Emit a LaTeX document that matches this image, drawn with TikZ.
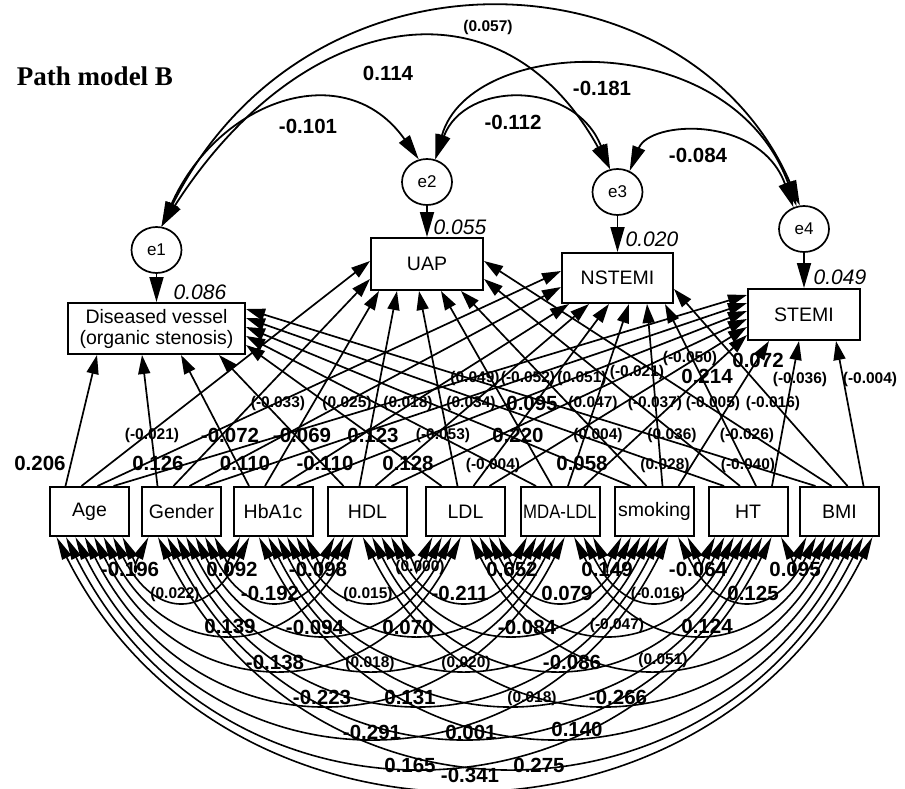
\documentclass[tikz,border=0pt]{standalone}
\usepackage{fontspec}
\setmainfont{Liberation Sans}
\newfontfamily\serifB{Liberation Serif}
\usetikzlibrary{arrows.meta,shapes.geometric,calc}
\begin{document}
\begin{tikzpicture}[x=1pt,y=-1pt,
  box/.style={draw,line width=2pt,inner sep=0pt,font=\fontsize{19.5}{20}\selectfont},
  endo/.style={box,minimum height=51pt},
  exo/.style={box,minimum width=79pt,minimum height=49pt},
  err/.style={draw,ellipse,line width=1.7pt,minimum width=50pt,minimum height=46pt,inner sep=0pt,font=\fontsize{17}{18}\selectfont},
  reg/.style={line width=1.7pt,-{Triangle[length=19pt,width=12pt]}},
  cov/.style={line width=1.6pt,{Triangle[length=23pt,width=10pt]}-{Triangle[length=23pt,width=10pt]}},
  ecov/.style={line width=1.8pt,{Triangle[length=25pt,width=13pt]}-{Triangle[length=25pt,width=13pt]}},
  earr/.style={line width=1.8pt,-{Triangle[length=25pt,width=14pt]}},
  big/.style={font=\fontsize{20.5}{22}\selectfont\bfseries,inner sep=0pt},
  sml/.style={font=\fontsize{15.5}{17}\selectfont\bfseries,inner sep=0pt},
  rsq/.style={font=\fontsize{21}{22}\selectfont\itshape,inner sep=0pt}]
\useasboundingbox (0,0) rectangle (905,789);
\fill[white] (0,0) rectangle (905,789);

% title
\node[inner sep=0pt,font=\fontsize{27}{30}\selectfont\serifB\bfseries] (title) at (95,76) {Path model B};

% endogenous boxes
\node[endo,minimum width=177pt,align=center,font=\fontsize{19.5}{21}\selectfont] (dv) at (156.5,328.5) {Diseased vessel\\(organic stenosis)};
\node[endo,minimum width=112pt,minimum height=52pt] (uap) at (427,264) {UAP};
\node[endo,minimum width=111pt,minimum height=50pt] (ns) at (617.5,278) {NSTEMI};
\node[endo,minimum width=112pt] (st) at (804,314.5) {STEMI};

% error terms
\node[err] (e1) at (156.5,250) {e1};
\node[err] (e2) at (427,182) {e2};
\node[err] (e3) at (617.5,192) {e3};
\node[err] (e4) at (804,229) {e4};

% exogenous boxes
\node[exo] (x0) at (89.5,511.5) {Age};
\node[exo] (x1) at (181.5,511.5) {Gender};
\node[exo] (x2) at (273,511.5) {HbA1c};
\node[exo] (x3) at (367.5,511.5) {HDL};
\node[exo] (x4) at (465.5,511.5) {LDL};
\node[exo] (x5) at (560,511.5) {\scalebox{0.86}[1]{MDA-LDL}};
\node[exo] (x6) at (654.5,511.5) {smoking};
\node[exo] (x7) at (748,511.5) {HT};
\node[exo] (x8) at (839.5,511.5) {BMI};

% error -> endogenous
\draw[earr] (e1) -- (dv);
\draw[earr] (e2) -- (uap);
\draw[earr] (e3) -- (ns);
\draw[earr] (e4) -- (st);

% error covariances
\draw[ecov] (e1.78) .. controls (218,100) and (345,55) .. (e2.110);
\draw[ecov] (e1.78) .. controls (300,10) and (500,-30) .. (e3.108);
\draw[ecov] (e1.78) .. controls (310,-70) and (690,-48) .. (e4.100);
\draw[ecov] (e2.70) .. controls (465,80) and (575,80) .. (e3.108);
\draw[ecov] (e2.70) .. controls (470,35) and (730,25) .. (e4.108);
\draw[ecov] (e3.60) .. controls (650,120) and (760,115) .. (e4.116);

% regression paths to Diseased vessel
\draw[reg] ([xshift=-24pt]x0.north) -- ([xshift=30pt]dv.south west);
\draw[reg] ([xshift=-24pt]x1.north) -- ([xshift=75pt]dv.south west);
\draw[reg] ([xshift=-24pt]x2.north) -- ([xshift=114pt]dv.south west);
\draw[reg] ([xshift=-24pt]x3.north) -- ([xshift=152pt]dv.south west);
\draw[reg] ([xshift=-24pt]x4.north) -- ([yshift=-43pt]dv.north east);
\draw[reg] ([xshift=-24pt]x5.north) -- ([yshift=-34pt]dv.north east);
\draw[reg] ([xshift=-24pt]x6.north) -- ([yshift=-25pt]dv.north east);
\draw[reg] ([xshift=-24pt]x7.north) -- ([yshift=-16pt]dv.north east);
\draw[reg] ([xshift=-24pt]x8.north) -- ([yshift=-7pt]dv.north east);
% to UAP
\draw[reg] ([xshift=-8pt]x0.north) -- ([yshift=-24pt]uap.north west);
\draw[reg] ([xshift=-8pt]x1.north) -- ([yshift=-42pt]uap.north west);
\draw[reg] ([xshift=-8pt]x2.north) -- ([xshift=9pt]uap.south west);
\draw[reg] ([xshift=-8pt]x3.north) -- ([xshift=27pt]uap.south west);
\draw[reg] ([xshift=-8pt]x4.north) -- ([xshift=49pt]uap.south west);
\draw[reg] ([xshift=-8pt]x5.north) -- ([xshift=71pt]uap.south west);
\draw[reg] ([xshift=-8pt]x6.north) -- ([xshift=91pt]uap.south west);
\draw[reg] ([xshift=-8pt]x7.north) -- ([yshift=-42pt]uap.north east);
\draw[reg] ([xshift=-8pt]x8.north) -- ([yshift=-24pt]uap.north east);
% to NSTEMI
\draw[reg] ([xshift=8pt]x0.north) -- ([yshift=-19pt]ns.north west);
\draw[reg] ([xshift=8pt]x1.north) -- ([yshift=-35pt]ns.north west);
\draw[reg] ([xshift=8pt]x2.north) -- ([xshift=8pt]ns.south west);
\draw[reg] ([xshift=8pt]x3.north) -- ([xshift=28pt]ns.south west);
\draw[reg] ([xshift=8pt]x4.north) -- ([xshift=48pt]ns.south west);
\draw[reg] ([xshift=8pt]x5.north) -- ([xshift=68pt]ns.south west);
\draw[reg] ([xshift=8pt]x6.north) -- ([xshift=86pt]ns.south west);
\draw[reg] ([xshift=8pt]x7.north) -- ([xshift=104pt]ns.south west);
\draw[reg] ([xshift=8pt]x8.north) -- ([yshift=-37pt]ns.north east);
% to STEMI
\draw[reg] ([xshift=24pt]x0.north) -- ([yshift=-7pt]st.north west);
\draw[reg] ([xshift=24pt]x1.north) -- ([yshift=-15pt]st.north west);
\draw[reg] ([xshift=24pt]x2.north) -- ([yshift=-23pt]st.north west);
\draw[reg] ([xshift=24pt]x3.north) -- ([yshift=-31pt]st.north west);
\draw[reg] ([xshift=24pt]x4.north) -- ([yshift=-39pt]st.north west);
\draw[reg] ([xshift=24pt]x5.north) -- ([yshift=-47pt]st.north west);
\draw[reg] ([xshift=24pt]x6.north) -- ([xshift=22pt]st.south west);
\draw[reg] ([xshift=24pt]x7.north) -- ([xshift=52pt]st.south west);
\draw[reg] ([xshift=24pt]x8.north) -- ([xshift=89pt]st.south west);

% covariances among exogenous variables
\foreach \ii in {0,...,7}{
  \pgfmathtruncatemacro{\cjs}{\ii+1}
  \foreach \jj in {\cjs,...,8}{
    \pgfmathtruncatemacro{\cd}{\jj-\ii}
    \pgfmathsetmacro{\co}{33-(\cd-1)*9.43}
    \pgfmathsetmacro{\cmo}{-\co}
    \pgfmathsetmacro{\cD}{{30,62,95,130,165,198,228,250}[\cd-1]}
    \pgfmathsetmacro{\cb}{\cD/0.75}
    \pgfmathsetmacro{\ca}{\cb*0.5}
    \coordinate (cs) at ([xshift=\co pt]x\ii.south);
    \coordinate (ce) at ([xshift=\cmo pt]x\jj.south);
    \draw[cov] (cs) .. controls ($(cs)+(\ca,\cb)$) and ($(ce)+(-\ca,\cb)$) .. (ce);
  }
}

% R squared
\node[rsq] (r1) at (200,292) {0.086};
\node[rsq] (r2) at (460,227) {0.055};
\node[rsq] (r3) at (652,239) {0.020};
\node[rsq] (r4) at (840,277) {0.049};

% error covariance labels
\node[sml] (t1) at (488,27) {(0.057)};
\node[big] (t2) at (388,73) {0.114};
\node[big] (t3) at (308,126) {-0.101};
\node[big] (t4) at (602,88) {-0.181};
\node[big] (t5) at (513,122) {-0.112};
\node[big] (t6) at (698,155) {-0.084};

% path coefficient labels
\foreach \px/\py/\tx [count=\n] in {40/463/0.206, 158/463/0.126, 245/463/0.110, 325/463/-0.110, 408/463/0.128, 582/463/0.058,
  230/435/-0.072, 302/435/-0.069, 373/435/0.123, 518/435/0.220, 532/403/0.095, 707/376/0.214, 758/360/0.072}
  \node[big] (pb\n) at (\px,\py) {\tx};
\foreach \px/\py/\tx [count=\n] in {493/465/(-0.004), 665/465/(0.028), 748/465/(-0.040),
  152/435/(-0.021), 443/435/(-0.053), 598/435/(0.004), 672/435/(0.036), 747/435/(-0.026),
  278/403/(-0.033), 347/403/(0.025), 408/403/(0.018), 471/403/(0.034), 593/403/(0.047), 655/403/(-0.037), 713/403/(-0.005), 773/403/(-0.016),
  475/378/(0.049), 528/378/(-0.052), 582/378/(0.051), 637/372/(-0.021), 690/358/(-0.050), 800/379/(-0.036), 870/379/(-0.004)}
  \node[sml] (ps\n) at (\px,\py) {\tx};

% covariance labels
\foreach \px/\py/\tx [count=\n] in {130/569/-0.196, 232/569/0.092, 318/569/-0.098, 512/569/0.652, 607/569/0.149, 698/569/-0.064, 795/569/0.095,
  270/593/-0.192, 460/593/-0.211, 567/593/0.079, 753/593/0.125,
  230/626/0.139, 315/627/-0.094, 408/627/0.070, 527/627/-0.084, 707/626/0.124,
  275/662/-0.138, 572/662/-0.086,
  322/697/-0.223, 410/697/0.131, 618/697/-0.266,
  372/732/-0.291, 471/732/0.001, 577/729/0.140,
  410/765/0.165, 539/765/0.275, 470/775/-0.341}
  \node[big] (cb\n) at (\px,\py) {\tx};
\foreach \px/\py/\tx [count=\n] in {420/567/(0.000), 175/594/(0.022), 368/594/(0.015), 658/594/(-0.016),
  617/625/(-0.047), 370/663/(0.018), 466/663/(0.020), 663/660/(0.051), 532/698/(0.018)}
  \node[sml] (cs\n) at (\px,\py) {\tx};
\end{tikzpicture}
\end{document}
